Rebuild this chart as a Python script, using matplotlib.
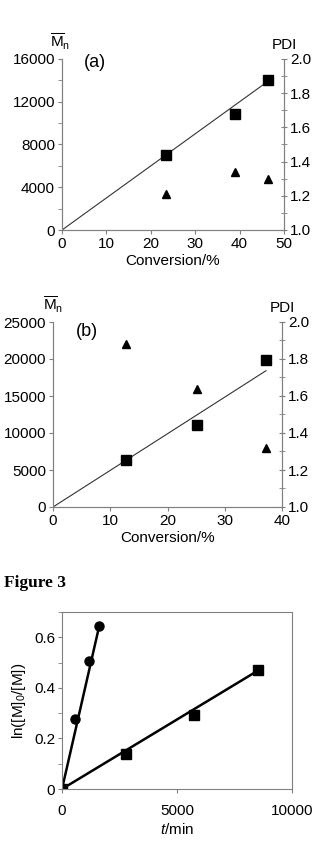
import numpy as np
import matplotlib
matplotlib.use('Agg')
import matplotlib.pyplot as plt
from matplotlib.ticker import MultipleLocator

##----------- data -----------
conv_a = [23.5, 39.0, 46.5]
mn_a = [7000, 10900, 14000]
pdi_a = [1.21, 1.34, 1.30]
fit_a = [0, 300]            # intercept, slope of Mn vs conversion

conv_b = [12.8, 25.2, 37.2]
mn_b = [6300, 11100, 19900]
pdi_b = [1.88, 1.64, 1.32]
fit_b = [0, 495]

t_circ = [0, 550, 1160, 1610]
ln_circ = [0, 0.275, 0.505, 0.643]
t_sq = [0, 2780, 5750, 8520]
ln_sq = [0, 0.14, 0.293, 0.472]

##----------- style -----------
plt.rcParams['font.family'] = ['Liberation Sans', 'DejaVu Sans']
plt.rcParams['mathtext.fontset'] = 'custom'
plt.rcParams['mathtext.rm'] = 'Liberation Sans'
plt.rcParams['mathtext.it'] = 'Liberation Sans:italic'
plt.rcParams['font.size'] = 11
spine_col = '#808080'

W, H = 316, 847
fig = plt.figure(figsize=(W / 100, H / 100), dpi=100)


def px_axes(left, top, right, bottom):
    return fig.add_axes([left / W, 1 - bottom / H, (right - left) / W, (bottom - top) / H])


def mn_panel(ax, conv, mn, pdi, fit, xmax, xstep, ymax, ystep, ylabel_minor, tag, tag_xy, mn_x):
    ax.set_xlim(0, xmax)
    ax.set_ylim(0, ymax)
    xs = np.array([0, conv[-1]])
    ax.plot(xs, fit[0] + fit[1] * xs, color='#333333', lw=0.8)
    ax.plot(conv, mn, 's', color='black', ms=6.5)
    ax.xaxis.set_major_locator(MultipleLocator(xstep))
    ax.yaxis.set_major_locator(MultipleLocator(ystep))
    if ylabel_minor:
        ax.yaxis.set_minor_locator(MultipleLocator(ystep / 2))
    ax.spines['top'].set_visible(False)
    for s in ['left', 'bottom', 'right']:
        ax.spines[s].set_color(spine_col)
    ax.tick_params(which='both', direction='out', length=3, color=spine_col, pad=2)
    ax.set_xlabel('Conversion/%', labelpad=2)
    ax.text(tag_xy[0], tag_xy[1], tag, transform=ax.transAxes, fontsize=13, va='top')
    ax.text(mn_x, 1.04, r'$\overline{\mathrm{M}}_\mathrm{n}$', transform=ax.transAxes,
            fontsize=11, va='bottom', ha='center')

    ax2 = ax.twinx()
    ax2.set_ylim(1.0, 2.0)
    ax2.plot(conv, pdi, '^', color='black', ms=6)
    ax2.yaxis.set_major_locator(MultipleLocator(0.2))
    ax2.yaxis.set_minor_locator(MultipleLocator(0.1))
    ax2.yaxis.set_major_formatter(matplotlib.ticker.FormatStrFormatter('%.1f'))
    ax2.spines['top'].set_visible(False)
    for s in ['left', 'bottom', 'right']:
        ax2.spines[s].set_color(spine_col)
    ax2.tick_params(which='both', direction='inout', length=5, color=spine_col, pad=2)
    ax2.text(1.0, 1.04, 'PDI', transform=ax2.transAxes, va='bottom', ha='center')
    return ax2


##----------- panel (a) -----------
ax_a = px_axes(62, 59, 284, 230)
mn_panel(ax_a, conv_a, mn_a, pdi_a, fit_a, 50, 10, 16000, 4000, True, '(a)', (0.1, 1.03), -0.01)

##----------- panel (b) -----------
ax_b = px_axes(53, 322, 282, 507)
mn_panel(ax_b, conv_b, mn_b, pdi_b, fit_b, 40, 10, 25000, 5000, False, '(b)', (0.1, 0.995), 0.0)

##----------- Figure 3 -----------
fig.text(4 / W, 1 - 583 / H, 'Figure 3', family='Liberation Serif', weight='bold',
         fontsize=12.5, va='center', ha='left')

ax_c = px_axes(62, 612, 292, 789)
ax_c.set_xlim(0, 10000)
ax_c.set_ylim(0, 0.7)
tc = np.array([0, t_circ[-1]])
kc = np.polyfit(t_circ, ln_circ, 1)
ax_c.plot(tc, np.polyval([kc[0], 0], tc), color='black', lw=1.8)
ts = np.array([0, t_sq[-1]])
ks = np.polyfit(t_sq, ln_sq, 1)
ax_c.plot(ts, np.polyval([ks[0], 0], ts), color='black', lw=1.8)
ax_c.plot(t_circ, ln_circ, 'o', color='black', ms=6.5)
ax_c.plot(t_sq, ln_sq, 's', color='black', ms=6.5)
ax_c.xaxis.set_major_locator(MultipleLocator(5000))
ax_c.yaxis.set_major_locator(MultipleLocator(0.2))
ax_c.yaxis.set_minor_locator(MultipleLocator(0.1))
ax_c.yaxis.set_major_formatter(matplotlib.ticker.FuncFormatter(
    lambda v, p: '0' if v == 0 else '%.1f' % v))
for s in ax_c.spines.values():
    s.set_color(spine_col)
ax_c.tick_params(which='both', direction='out', length=3, color=spine_col, pad=2)
ax_c.tick_params(axis='x', pad=8)
ax_c.set_ylabel(r'ln([M]$_0$/[M])', labelpad=4)
ax_c.set_xlabel(r'$\mathit{t}$/min', labelpad=3)

fig.savefig('out.png', dpi=100)
